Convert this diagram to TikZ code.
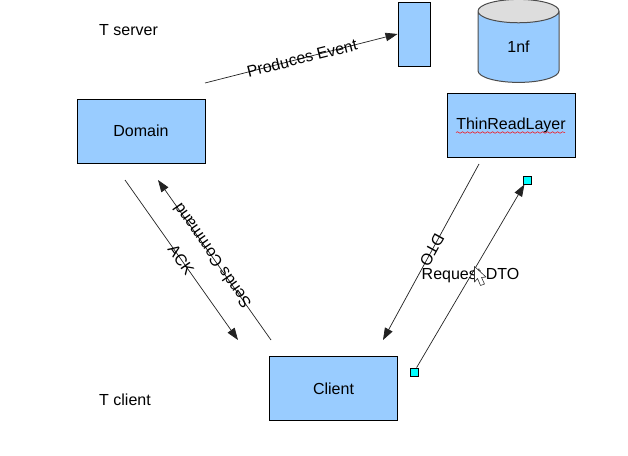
\documentclass[tikz,border=0pt]{standalone}
\usepackage{fontspec}
\setmainfont{Liberation Sans}
\usetikzlibrary{arrows.meta,shapes.geometric,decorations.pathmorphing}
\definecolor{boxblue}{HTML}{99CCFF}
\definecolor{topgray}{HTML}{DDDDDD}
\definecolor{inkgray}{HTML}{222222}
\definecolor{handlecyan}{HTML}{00FFFF}
\tikzset{
	box/.style={draw=black,fill=boxblue,line width=0.9pt,minimum width=128pt,minimum height=64pt,inner sep=0pt},
	link/.style={draw=inkgray,line width=0.7pt,-{Triangle[length=12pt,width=8.5pt]}},
	handle/.style={draw=black,fill=handlecyan,line width=0.8pt,minimum size=8pt,inner sep=0pt},
	tag/.style={inner sep=0pt}
}
\begin{document}
\begin{tikzpicture}[x=1pt,y=-1pt,font=\fontsize{16}{18}\selectfont]
	\useasboundingbox (0, 0) rectangle (628, 455);
	\node[tag,anchor=west] (tserver) at (99, 30) {T server};
	\node[tag,anchor=west] (tclient) at (99, 400) {T client};
	\node[box] (domain) at (141, 131) {Domain};
	\node[box] (client) at (333.5, 388.5) {Client};
	\node[box] (thinlayer) at (511, 125) {\raisebox{1pt}{ThinReadLayer}};
	\node[box,minimum width=32pt] (event) at (414, 34) {};
	\node[draw=black!70,line width=1pt,cylinder,shape border rotate=90,aspect=1.05,minimum width=81pt,minimum height=83pt,inner sep=0pt,
		cylinder uses custom fill,cylinder body fill=boxblue,cylinder end fill=topgray] (infra) at (518.5, 47) {1nf};
	\draw[red,line width=0.5pt,decorate,decoration={snake,amplitude=0.8pt,segment length=5pt}] (456, 132.5) -- (565, 132.5);
	\coordinate (produce) at (205, 83);
	\coordinate (sendstart) at (271, 340);
	\coordinate (sendend) at (158, 180);
	\coordinate (ackstart) at (125, 180);
	\coordinate (ackend) at (238, 340);
	\coordinate (dtostart) at (479, 164);
	\coordinate (dtoend) at (383, 340);
	\node[handle] (reqstart) at (414, 372) {};
	\node[handle] (reqend) at (527, 180) {};
	\draw[link] (produce) -- (event.west);
	\draw[link] (sendstart) -- (sendend);
	\draw[link] (ackstart) -- (ackend);
	\draw[link] (dtostart) -- (dtoend);
	\draw[link] (reqstart) -- (reqend);
	\node[tag,rotate=14] (producelabel) at (302, 58) {Produces Event};
	\node[tag,rotate=125] (sendlabel) at (212, 256) {Sends Command};
	\node[tag,rotate=-55] (acklabel) at (181, 260) {ACK};
	\node[tag,rotate=241] (dtolabel) at (432, 250) {DTO};
	\node[tag] (reqlabel) at (470.5, 276) {Request DTO};
	% mouse pointer
	\draw[fill=white,draw=black!80,line width=0.6pt,line join=round] (474.5, 266.5) -- (486, 277) -- (481.5, 277.5) -- (484.5, 284) -- (480.5, 285.5) -- (477.5, 278.5) -- (474.5, 282) -- cycle;
\end{tikzpicture}
\end{document}
